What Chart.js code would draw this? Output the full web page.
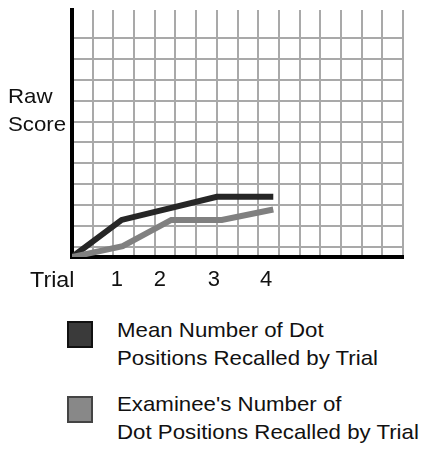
<!DOCTYPE html>
<html>
<head>
<meta charset="utf-8">
<script src="https://cdn.jsdelivr.net/npm/chart.js@4/dist/chart.umd.min.js"></script>
<style>
  body { margin: 0; background: #fff; }
  #wrap { position: relative; width: 422px; height: 451px; font-family: 'Liberation Sans', Arial, sans-serif; color: #111; }
  #wrap canvas { position: absolute; left: 0; top: 0; }
  .txt { position: absolute; white-space: nowrap; transform-origin: left top; transform: scaleX(1.06); }
  .swatch { position: absolute; left: 67px; width: 22px; height: 23px; border: 2px solid #111; }
</style>
</head>
<body>
<div id="wrap">
  <canvas id="rawScoreChart" width="422" height="300"></canvas>
  <div class="txt" style="left:8px;top:82px;font-size:21px;line-height:27.5px">Raw<br>Score</div>
  <div class="txt" style="left:30px;top:269px;font-size:22px;line-height:22px">Trial</div>
  <div id="legend"></div>
</div>
<script>
// values in grid cells
const trialLabels = ['1', '2', '3', '4'];
const trialLabelPos = [2.17, 4.25, 6.86, 9.38];

const meanX = [0, 2.4, 4.8, 7.0, 9.73];
const meanY = [0, 1.78, 2.36, 2.89, 2.89];

const examineeX = [0, 2.45, 4.8, 7.24, 9.73];
const examineeY = [0, 0.52, 1.78, 1.78, 2.28];

const yGridValues = [0.5, 1.5, 2.5, 3.5, 4.5, 5.5, 6.5, 7.5, 8.5, 9.5, 10.5];

const seriesNames = [
  ['Mean Number of Dot', 'Positions Recalled by Trial'],
  ["Examinee's Number of", 'Dot Positions Recalled by Trial'],
];
const lineColors = ['#262626', '#808080'];
const swatchFills = ['#3a3a3a', '#888888'];
const swatchBorders = ['#111111', '#444444'];

const fontFamily = "'Liberation Sans', Arial, sans-serif";
const gridColor = '#a9a9a9';

function toPoints(xs, ys) {
  return xs.map((x, i) => ({ x: x, y: ys[i] }));
}

const ctx = document.getElementById('rawScoreChart').getContext('2d');

new Chart(ctx, {
  type: 'line',
  data: {
    datasets: [{
      label: seriesNames[0].join(' '),
      data: toPoints(meanX, meanY),
      borderColor: lineColors[0],
      borderWidth: 6,
      pointRadius: 0,
      order: 1,
    }, {
      label: seriesNames[1].join(' '),
      data: toPoints(examineeX, examineeY),
      borderColor: lineColors[1],
      borderWidth: 6,
      pointRadius: 0,
      order: 0,
    }],
  },
  options: {
    responsive: false,
    animation: false,
    layout: { padding: { left: 72, top: 10, right: 19, bottom: 9 } },
    plugins: {
      legend: { display: false },
      tooltip: { enabled: false },
    },
    scales: {
      x: {
        type: 'linear',
        min: 0,
        max: 16,
        weight: 0,
        ticks: { stepSize: 1, display: false },
        grid: { color: gridColor, lineWidth: 2, drawTicks: false },
        border: { color: '#000', width: 4 },
        afterFit: (scale) => { scale.height = 0; },
      },
      xTrial: {
        type: 'linear',
        position: 'bottom',
        min: 0,
        max: 16,
        weight: 1,
        grid: { display: false, drawTicks: false },
        border: { display: false },
        afterBuildTicks: (scale) => { scale.ticks = trialLabelPos.map(v => ({ value: v })); },
        ticks: {
          autoSkip: false,
          maxRotation: 0,
          padding: 10,
          color: '#111',
          font: { family: fontFamily, size: 22 },
          callback: (value, index) => trialLabels[index],
        },
        afterFit: (scale) => { scale.height = 34; },
      },
      y: {
        type: 'linear',
        min: 0,
        max: 11.86,
        ticks: { display: false },
        afterBuildTicks: (scale) => { scale.ticks = yGridValues.map(v => ({ value: v })); },
        grid: { color: gridColor, lineWidth: 2, drawTicks: false },
        border: { color: '#000', width: 4 },
        afterFit: (scale) => { scale.width = 0; },
      },
    },
  },
});

// legend below the chart, two lines per entry
const legend = document.getElementById('legend');
const swatchTops = [321, 396];
const textTops = [316, 390.4];
seriesNames.forEach((lines, i) => {
  const sw = document.createElement('div');
  sw.className = 'swatch';
  sw.style.top = swatchTops[i] + 'px';
  sw.style.background = swatchFills[i];
  sw.style.borderColor = swatchBorders[i];
  legend.appendChild(sw);

  const txt = document.createElement('div');
  txt.className = 'txt';
  txt.style.left = '117px';
  txt.style.top = textTops[i] + 'px';
  txt.style.fontSize = '21px';
  txt.style.lineHeight = '28px';
  txt.innerHTML = lines.join('<br>');
  legend.appendChild(txt);
});
</script>
</body>
</html>
